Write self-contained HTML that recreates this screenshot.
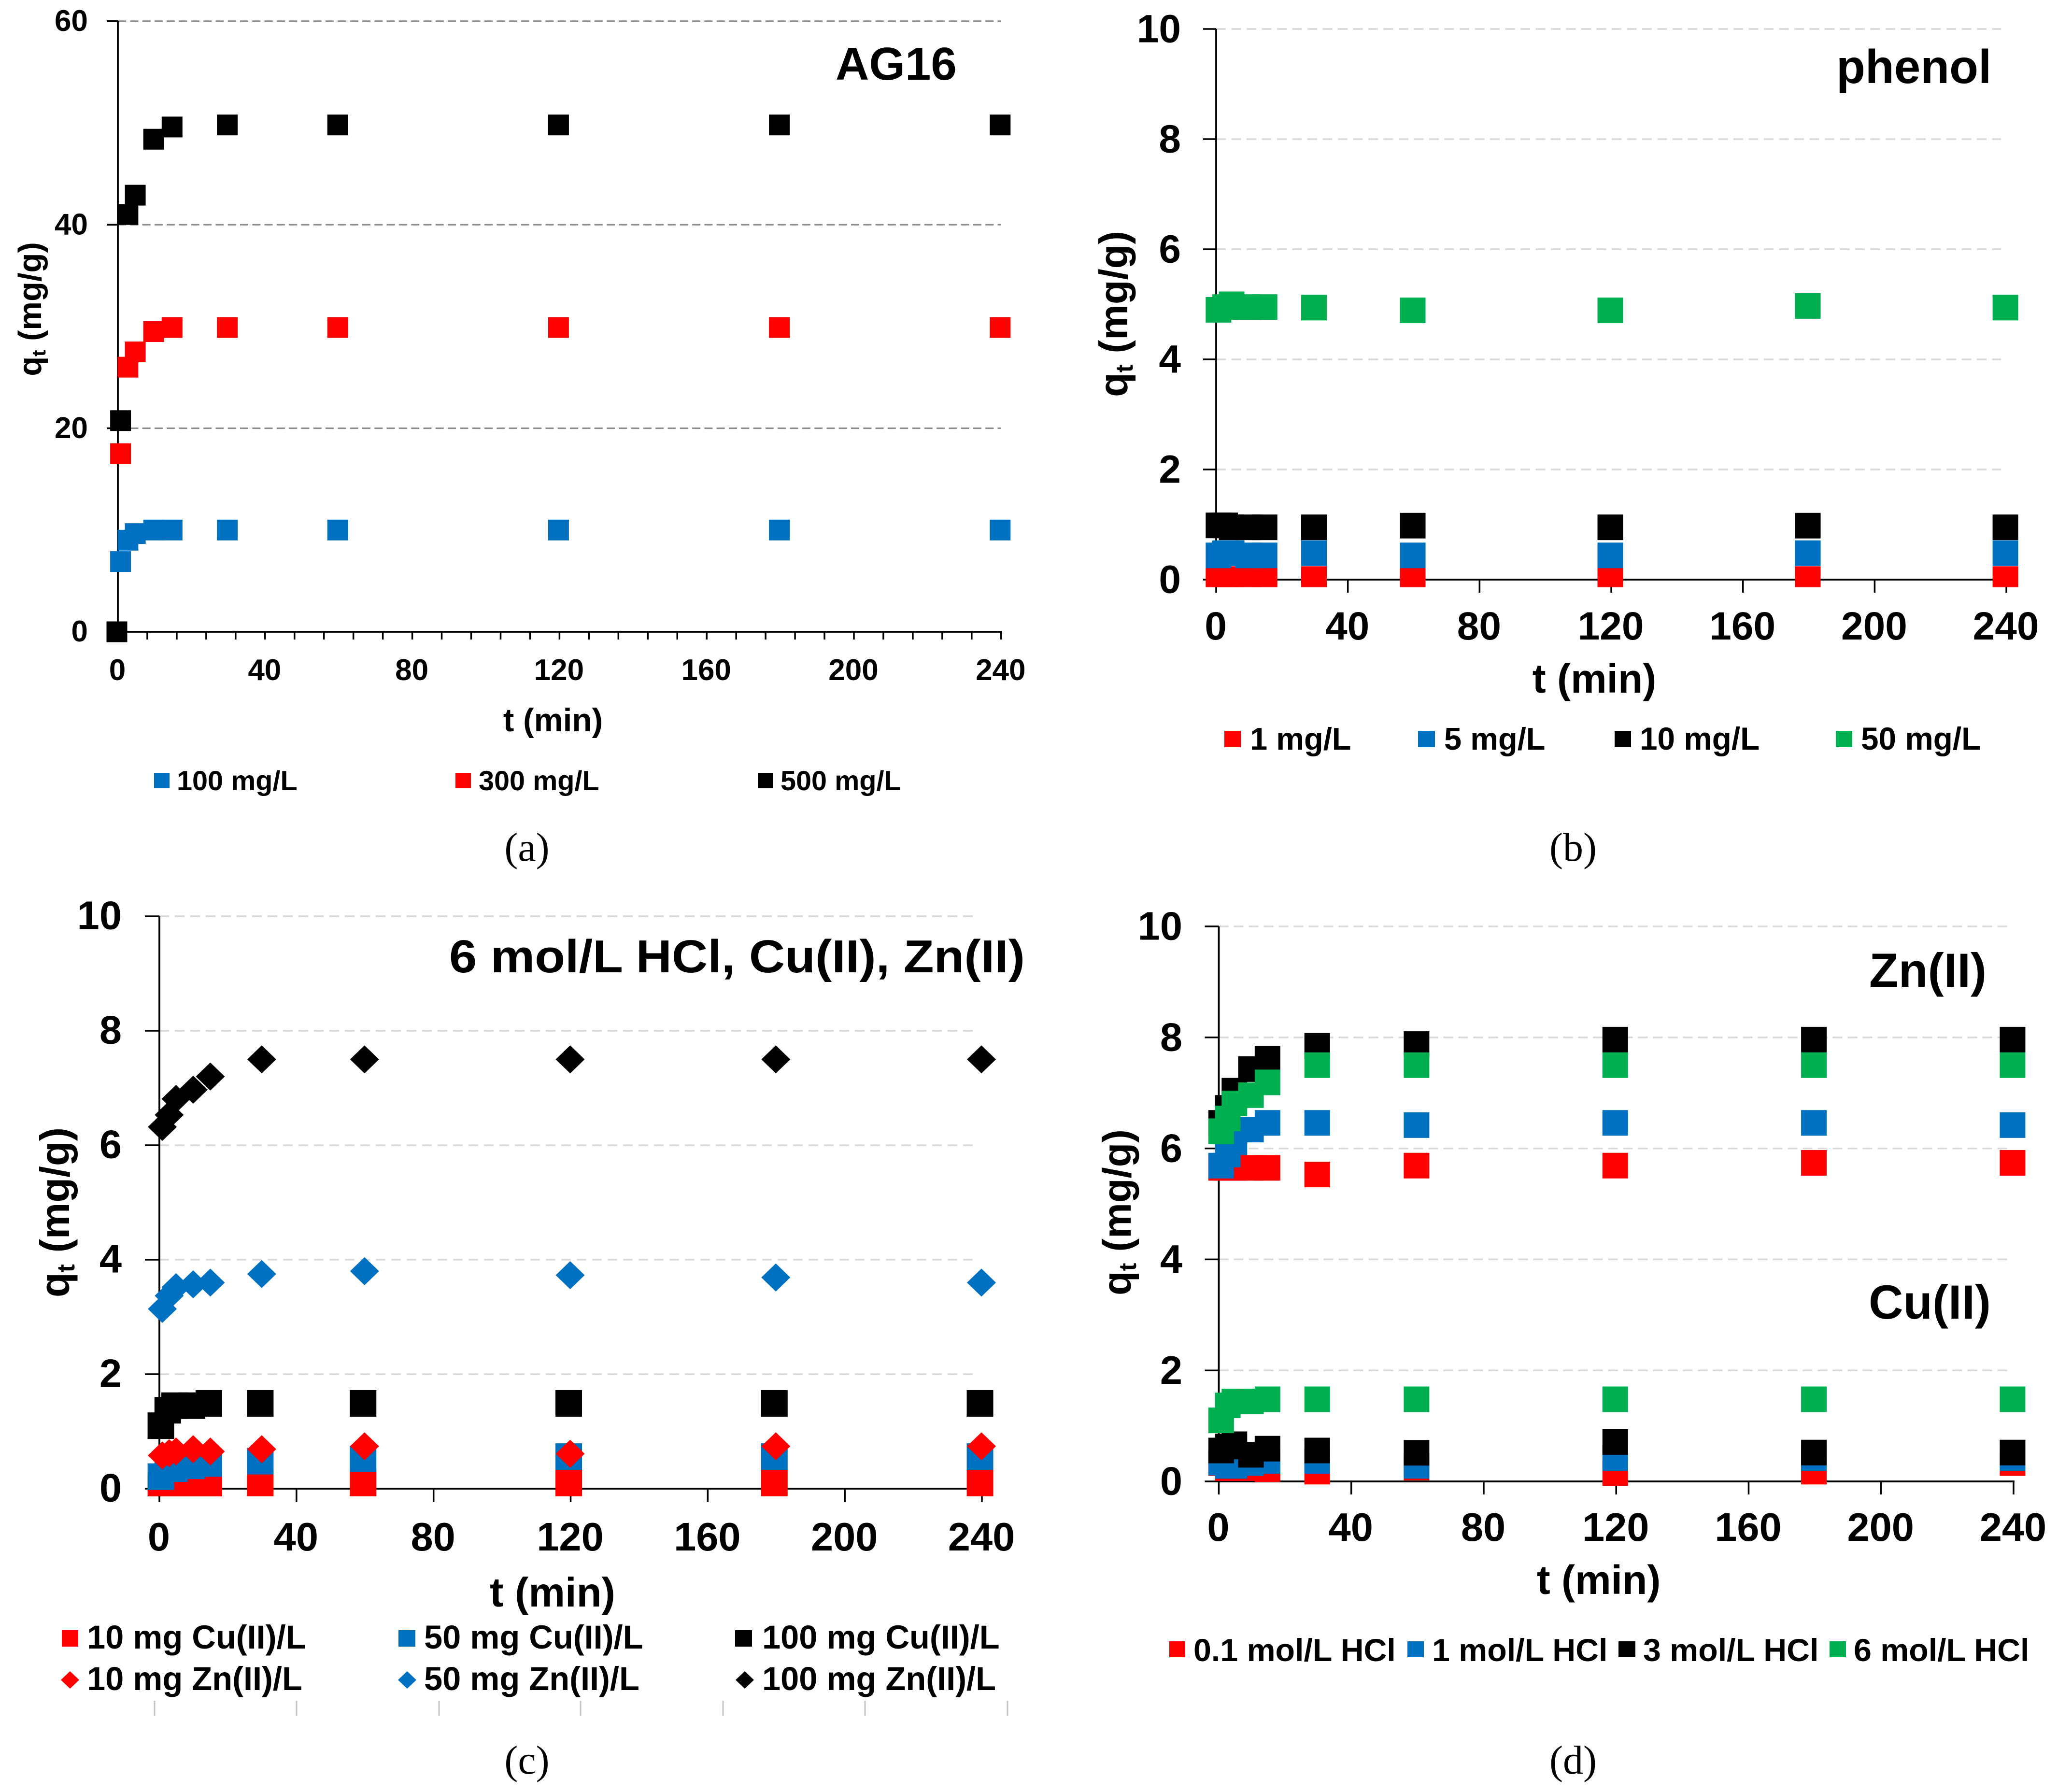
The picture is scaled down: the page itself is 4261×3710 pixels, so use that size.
<!DOCTYPE html>
<html lang="en">
<head>
<meta charset="utf-8">
<title>Adsorption kinetics panels</title>
<style>
html,body{margin:0;padding:0;background:#fff}
svg{display:block}
text{font-family:"Liberation Sans",Arial,sans-serif;font-weight:bold;fill:#000}
text.cap{font-family:"Liberation Serif","Times New Roman",serif;font-weight:normal}
</style>
</head>
<body>
<svg id="fig" xmlns="http://www.w3.org/2000/svg" width="4261" height="3710" viewBox="0 0 4261 3710">
<defs>
<clipPath id="clipB"><rect x="2400" y="0" width="1861" height="1215.7"/></clipPath>
<clipPath id="clipC"><rect x="200" y="1800" width="1950" height="1298"/></clipPath>
</defs>
<rect width="4261" height="3710" fill="#fff"/>

<g id="panelA">
<g id="panelA-axes"></g>
<g id="panelA-marks"></g>
<text x="1730" y="165" font-size="96">AG16</text>
<text x="1145" y="1514" font-size="67.5" text-anchor="middle">t (min)</text>
<text transform="translate(85,640) rotate(-90)" font-size="67" text-anchor="middle">q<tspan font-size="40" dy="9">t</tspan><tspan dy="-9"> (mg/g)</tspan></text>
<g><rect x="319" y="1600" width="32" height="32" fill="#0070C0"/><text x="366" y="1636" font-size="57.6">100 mg/L</text></g>
<g><rect x="943" y="1600" width="32" height="32" fill="#FF0000"/><text x="991" y="1636" font-size="57.6">300 mg/L</text></g>
<g><rect x="1569" y="1600" width="32" height="32" fill="#000"/><text x="1616" y="1636" font-size="57.6">500 mg/L</text></g>
<text class="cap" x="1091" y="1782" font-size="84" text-anchor="middle">(a)</text>
</g>

<g id="panelB">
<g id="panelB-axes"></g>
<g id="panelB-marks" clip-path="url(#clipB)"></g>
<text x="3802" y="172" font-size="98">phenol</text>
<text x="3301" y="1434" font-size="84" text-anchor="middle">t (min)</text>
<text transform="translate(2334,650) rotate(-90)" font-size="83" text-anchor="middle">q<tspan font-size="50" dy="11">t</tspan><tspan dy="-11"> (mg/g)</tspan></text>
<g><rect x="2535" y="1513" width="34" height="34" fill="#FF0000"/><text x="2588" y="1552" font-size="65">1 mg/L</text></g>
<g><rect x="2936" y="1513" width="35" height="34" fill="#0070C0"/><text x="2990" y="1552" font-size="65">5 mg/L</text></g>
<g><rect x="3343" y="1513" width="34" height="34" fill="#000"/><text x="3395" y="1552" font-size="65.7">10 mg/L</text></g>
<g><rect x="3801" y="1513" width="34" height="34" fill="#00B050"/><text x="3853" y="1552" font-size="65.7">50 mg/L</text></g>
<text class="cap" x="3257" y="1782" font-size="84" text-anchor="middle">(b)</text>
</g>

<g id="panelC">
<g id="panelC-axes"></g>
<g id="panelC-marks" clip-path="url(#clipC)"></g>
<text x="930" y="2013" font-size="96" textLength="1192" lengthAdjust="spacingAndGlyphs">6 mol/L HCl, Cu(II), Zn(II)</text>
<text x="1144" y="3326" font-size="85" text-anchor="middle">t (min)</text>
<text transform="translate(143,2510) rotate(-90)" font-size="85" text-anchor="middle">q<tspan font-size="51" dy="11">t</tspan><tspan dy="-11"> (mg/g)</tspan></text>
<g><rect x="128" y="3375" width="34" height="34" fill="#FF0000"/><text x="180" y="3413" font-size="68.6">10 mg Cu(II)/L</text></g>
<g><rect x="825" y="3375" width="35" height="34" fill="#0070C0"/><text x="878" y="3413" font-size="68.6">50 mg Cu(II)/L</text></g>
<g><rect x="1522" y="3375" width="35" height="34" fill="#000"/><text x="1578" y="3413" font-size="68.6">100 mg Cu(II)/L</text></g>
<g><polygon points="126,3478 145,3460 164,3478 145,3496" fill="#FF0000"/><text x="180" y="3499" font-size="68.6">10 mg Zn(II)/L</text></g>
<g><polygon points="824,3478 843,3460 862,3478 843,3496" fill="#0070C0"/><text x="878" y="3499" font-size="68.6">50 mg Zn(II)/L</text></g>
<g><polygon points="1523,3478 1542,3460 1561,3478 1542,3496" fill="#000"/><text x="1578" y="3499" font-size="68.6">100 mg Zn(II)/L</text></g>
<g stroke="#c4c4c4" stroke-width="3">
<line x1="320" y1="3521" x2="320" y2="3552"/><line x1="614" y1="3521" x2="614" y2="3552"/><line x1="909" y1="3521" x2="909" y2="3552"/><line x1="1202" y1="3521" x2="1202" y2="3552"/><line x1="1497" y1="3521" x2="1497" y2="3552"/><line x1="1791" y1="3521" x2="1791" y2="3552"/><line x1="2086" y1="3521" x2="2086" y2="3552"/>
</g>
<text class="cap" x="1091" y="3672" font-size="84" text-anchor="middle">(c)</text>
</g>

<g id="panelD">
<g id="panelD-axes"></g>
<g id="panelD-marks"></g>
<text x="3870" y="2043" font-size="99.5">Zn(II)</text>
<text x="3869" y="2730" font-size="99">Cu(II)</text>
<text x="3310" y="3300" font-size="84" text-anchor="middle">t (min)</text>
<text transform="translate(2341,2510) rotate(-90)" font-size="83" text-anchor="middle">q<tspan font-size="50" dy="11">t</tspan><tspan dy="-11"> (mg/g)</tspan></text>
<g><rect x="2421" y="3398" width="33" height="33" fill="#FF0000"/><text x="2471" y="3439" font-size="66.3">0.1 mol/L HCl</text></g>
<g><rect x="2914" y="3398" width="34" height="33" fill="#0070C0"/><text x="2965" y="3439" font-size="66.3">1 mol/L HCl</text></g>
<g><rect x="3351" y="3398" width="35" height="33" fill="#000"/><text x="3402" y="3439" font-size="66.3">3 mol/L HCl</text></g>
<g><rect x="3788" y="3398" width="34" height="33" fill="#00B050"/><text x="3838" y="3439" font-size="66.3">6 mol/L HCl</text></g>
<text class="cap" x="3257" y="3672" font-size="84" text-anchor="middle">(d)</text>
</g>
</svg>

<script>
// ---------- shared tick labels ----------
const xTickLabels = [0, 40, 80, 120, 160, 200, 240];
const yTicksA = [0, 20, 40, 60];
const yTicksOther = [0, 2, 4, 6, 8, 10];

// ---------- panel a: AG16 ----------
const timesA = [0, 1, 3, 5, 10, 15, 30, 60, 120, 180, 240];
const a100 = [0, 6.9, 9.0, 9.65, 10, 10, 10, 10, 10, 10, 10];
const a300 = [0, 17.5, 26, 27.5, 29.5, 29.9, 29.9, 29.9, 29.9, 29.9, 29.9];
const a500 = [0, 20.75, 41, 42.9, 48.4, 49.6, 49.8, 49.8, 49.8, 49.8, 49.8];

// ---------- panel b: phenol ----------
const timesB = [1, 3, 5, 10, 15, 30, 60, 120, 180, 240];
const b1 = [-0.02, -0.02, 0.01, -0.02, -0.02, 0.01, -0.02, -0.02, 0.01, 0.01];
const b5 = [0.44, 0.48, 0.48, 0.44, 0.44, 0.48, 0.44, 0.44, 0.48, 0.48];
const b10 = [0.985, 0.985, 0.95, 0.95, 0.95, 0.95, 0.98, 0.95, 0.98, 0.95];
const b50 = [4.9, 4.95, 5.0, 4.95, 4.95, 4.94, 4.89, 4.89, 4.97, 4.94];

// ---------- panel c: 6 mol/L HCl ----------
const timesC = [1, 3, 5, 10, 15, 30, 60, 120, 180, 240];
const cCu10 = [0.02, 0.02, 0.05, 0.07, 0.09, 0.1, 0.1, 0.1, 0.1, 0.1];
const cCu50 = [0.21, 0.35, 0.35, 0.40, 0.44, 0.48, 0.52, 0.56, 0.56, 0.56];
const cCu100 = [1.10, 1.37, 1.45, 1.45, 1.49, 1.49, 1.49, 1.49, 1.49, 1.49];
const cZn10 = [0.58, 0.62, 0.65, 0.69, 0.65, 0.69, 0.74, 0.61, 0.74, 0.74];
const cZn50 = [3.14, 3.37, 3.52, 3.57, 3.6, 3.75, 3.8, 3.73, 3.69, 3.6];
const cZn100 = [6.32, 6.53, 6.81, 6.97, 7.2, 7.5, 7.5, 7.5, 7.5, 7.5];

// ---------- panel d: Zn(II) and Cu(II) vs HCl ----------
const timesD = [1, 3, 5, 10, 15, 30, 60, 120, 180, 240];
const dCu01 = [0.33, 0.24, 0.24, 0.24, 0.22, 0.176, 0.25, 0.15, 0.176, 0.33];
const dCu1 = [0.34, 0.28, 0.28, 0.33, 0.37, 0.37, 0.28, 0.42, 0.42, 0.42];
const dCu3 = [0.557, 0.63, 0.67, 0.48, 0.59, 0.557, 0.516, 0.71, 0.52, 0.52];
const dCu6 = [1.10, 1.37, 1.44, 1.44, 1.48, 1.48, 1.48, 1.48, 1.48, 1.48];
const dZn01 = [5.65, 5.65, 5.65, 5.65, 5.65, 5.53, 5.69, 5.69, 5.74, 5.74];
const dZn1 = [5.69, 5.89, 6.11, 6.34, 6.46, 6.46, 6.42, 6.46, 6.46, 6.42];
const dZn3 = [6.46, 6.73, 7.04, 7.43, 7.62, 7.85, 7.88, 7.96, 7.96, 7.96];
const dZn6 = [6.31, 6.54, 6.81, 6.96, 7.19, 7.5, 7.5, 7.5, 7.5, 7.5];

const BLUE = '#0070C0', RED = '#FF0000', BLACK = '#000000', GREEN = '#00B050';
const NS = 'http://www.w3.org/2000/svg';

function mk(tag, attrs, parent) {
  const n = document.createElementNS(NS, tag);
  for (const k in attrs) n.setAttribute(k, attrs[k]);
  parent.appendChild(n);
  return n;
}
function linear(origin, slope) {
  return function (v) { return origin + slope * v; };
}

function drawAxes(id, c) {
  const g = document.getElementById(id + '-axes');
  const x = linear(c.x0, c.xs), y = linear(c.y0, -c.ys);
  const xEnd = x(240);
  c.yTicks.forEach(function (v) {
    if (v !== 0) {
      const gl = mk('line', {x1: c.x0, x2: c.gridEnd, y1: y(v), y2: y(v), stroke: c.gridColor, 'stroke-width': c.gridW, 'stroke-dasharray': c.dash}, g);
      
      
    }
    const tk = mk('line', {x1: c.x0 - c.yTickLen, x2: c.x0, y1: y(v), y2: y(v), stroke: '#000', 'stroke-width': 3.5}, g);
    
    
    const tl = mk('text', {x: c.yLabelX, y: y(v) + c.fs * 0.358 - c.yLabelLift, 'font-size': c.fs, 'text-anchor': 'end'}, g);
    tl.textContent = String(v);
    
    
  });
  const ya = mk('line', {x1: c.x0, x2: c.x0, y1: y(c.yTicks[c.yTicks.length - 1]), y2: c.y0, stroke: '#000', 'stroke-width': 3.8}, g);
  
  
  const xa = mk('line', {x1: c.x0 - 2, x2: xEnd + 2, y1: c.y0, y2: c.y0, stroke: '#000', 'stroke-width': 3.8}, g);
  
  
  for (let t = 0; t <= 240; t += c.tickStep) {
    const tk = mk('line', {x1: x(t), x2: x(t), y1: c.y0, y2: c.y0 + c.xTickLen, stroke: '#000', 'stroke-width': 3.5}, g);
    
    
  }
  xTickLabels.forEach(function (t) {
    const tl = mk('text', {x: x(t) - 1, y: c.xLabelY, 'font-size': c.fs, 'text-anchor': 'middle'}, g);
    tl.textContent = String(t);
    
    
  });
}

function drawSquares(id, c, times, values, color, name, size, dx) {
  const g = document.getElementById(id + '-marks');
  const x = linear(c.x0, c.xs), y = linear(c.y0, -c.ys);
  times.forEach(function (t, i) {
    const el = mk('rect', {x: x(t) + dx - size / 2, y: y(values[i]) - size / 2, width: size, height: size, fill: color}, g);
    
    
  });
}

function drawDiamonds(id, c, times, values, color, name, w, h, dx) {
  const g = document.getElementById(id + '-marks');
  const x = linear(c.x0, c.xs), y = linear(c.y0, -c.ys);
  times.forEach(function (t, i) {
    const px = x(t) + dx, py = y(values[i]);
    const el = mk('polygon', {points: (px - w) + ',' + py + ' ' + px + ',' + (py - h) + ' ' + (px + w) + ',' + py + ' ' + px + ',' + (py + h), fill: color}, g);
    
    
  });
}

const cfgA = {x0: 244, xs: 7.62, y0: 1308, ys: 21.07, yTicks: yTicksA, gridEnd: 2072, gridColor: '#8c8c8c', gridW: 3, dash: '17 8.3', yTickLen: 23, xTickLen: 16, tickStep: 8, yLabelX: 182, yLabelLift: 2, xLabelY: 1408, fs: 62};
const cfgB = {x0: 2518, xs: 6.817, y0: 1200, ys: 114, yTicks: yTicksOther, gridEnd: 4143, gridColor: '#d9d9d9', gridW: 3.5, dash: '20 11.5', yTickLen: 27, xTickLen: 27, tickStep: 40, yLabelX: 2445, yLabelLift: 2, xLabelY: 1324, fs: 82};
const cfgC = {x0: 330, xs: 7.096, y0: 3082, ys: 118.5, yTicks: yTicksOther, gridEnd: 2020, gridColor: '#d9d9d9', gridW: 3.5, dash: '20 12', yTickLen: 30, xTickLen: 28, tickStep: 40, yLabelX: 252, yLabelLift: 3, xLabelY: 3210, fs: 83};
const cfgD = {x0: 2523.5, xs: 6.856, y0: 3067, ys: 114.9, yTicks: yTicksOther, gridEnd: 4157, gridColor: '#d9d9d9', gridW: 3.5, dash: '20 11', yTickLen: 29, xTickLen: 27, tickStep: 40, yLabelX: 2448, yLabelLift: 2, xLabelY: 3190, fs: 83};

drawAxes('panelA', cfgA);
drawSquares('panelA', cfgA, timesA, a100, BLUE, 'series-100-mg-l', 43, -2);
drawSquares('panelA', cfgA, timesA, a300, RED, 'series-300-mg-l', 43, -2);
drawSquares('panelA', cfgA, timesA, a500, BLACK, 'series-500-mg-l', 43, -2);

drawAxes('panelB', cfgB);
drawSquares('panelB', cfgB, timesB, b1, RED, 'series-1-mg-l', 53, -2);
drawSquares('panelB', cfgB, timesB, b5, BLUE, 'series-5-mg-l', 53, -2);
drawSquares('panelB', cfgB, timesB, b10, BLACK, 'series-10-mg-l', 53, -2);
drawSquares('panelB', cfgB, timesB, b50, GREEN, 'series-50-mg-l', 53, -2);

drawAxes('panelC', cfgC);
drawSquares('panelC', cfgC, timesC, cCu10, RED, 'series-10-mg-cu', 55, -4);
drawSquares('panelC', cfgC, timesC, cCu50, BLUE, 'series-50-mg-cu', 55, -4);
drawSquares('panelC', cfgC, timesC, cCu100, BLACK, 'series-100-mg-cu', 55, -4);
drawDiamonds('panelC', cfgC, timesC, cZn10, RED, 'series-10-mg-zn', 30, 29, -1);
drawDiamonds('panelC', cfgC, timesC, cZn50, BLUE, 'series-50-mg-zn', 30, 29, -1);
drawDiamonds('panelC', cfgC, timesC, cZn100, BLACK, 'series-100-mg-zn', 30, 29, -1);

drawAxes('panelD', cfgD);
drawSquares('panelD', cfgD, timesD, dCu01, RED, 'series-cu-0-1-mol-hcl', 53, -2);
drawSquares('panelD', cfgD, timesD, dZn01, RED, 'series-zn-0-1-mol-hcl', 53, -2);
drawSquares('panelD', cfgD, timesD, dCu1, BLUE, 'series-cu-1-mol-hcl', 53, -2);
drawSquares('panelD', cfgD, timesD, dZn1, BLUE, 'series-zn-1-mol-hcl', 53, -2);
drawSquares('panelD', cfgD, timesD, dCu3, BLACK, 'series-cu-3-mol-hcl', 53, -2);
drawSquares('panelD', cfgD, timesD, dZn3, BLACK, 'series-zn-3-mol-hcl', 53, -2);
drawSquares('panelD', cfgD, timesD, dCu6, GREEN, 'series-cu-6-mol-hcl', 53, -2);
drawSquares('panelD', cfgD, timesD, dZn6, GREEN, 'series-zn-6-mol-hcl', 53, -2);
</script>
</body>
</html>
